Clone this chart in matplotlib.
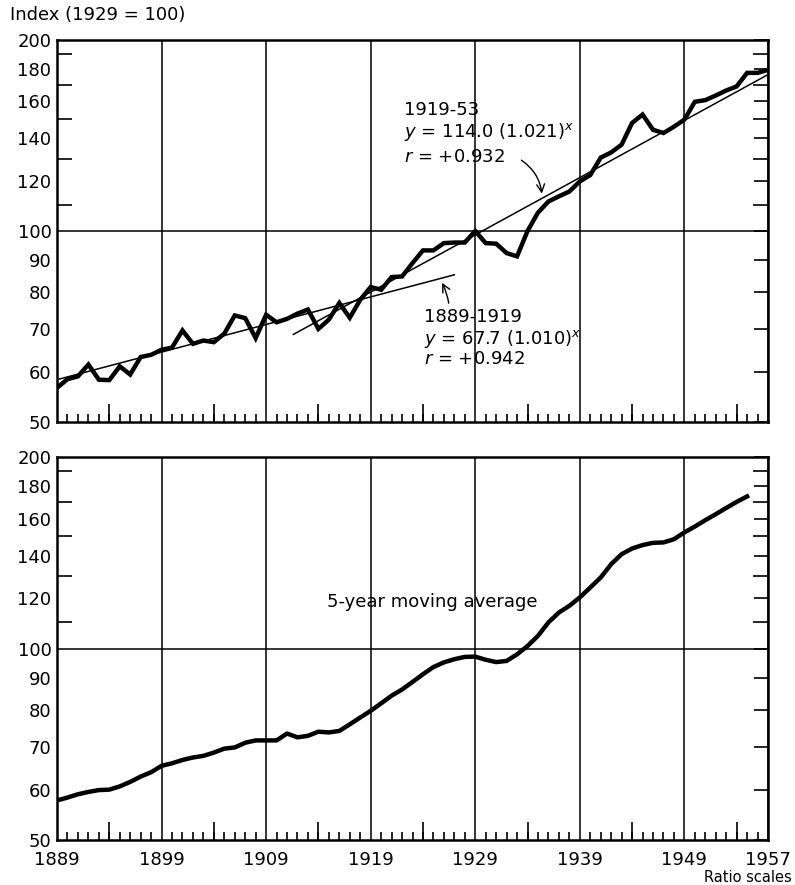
import numpy as np
import matplotlib
matplotlib.use("Agg")
import matplotlib.pyplot as plt
from matplotlib.ticker import FixedLocator, NullFormatter

# annual index, 1929 = 100
years = list(range(1889, 1958))
index = [56.6, 58.4, 59.0, 61.6, 58.3, 58.2, 61.2, 59.4, 63.3, 63.8,
         65.0, 65.5, 69.7, 66.4, 67.2, 66.8, 68.9, 73.6, 72.9, 67.8,
         73.8, 71.8, 72.7, 74.1, 75.2, 70.1, 72.5, 77.0, 73.0, 77.9,
         81.6, 80.8, 84.6, 84.8, 89.0, 93.2, 93.2, 95.7, 95.9, 95.9,
         100.0, 95.7, 95.5, 92.3, 91.2, 100.0, 106.9, 111.3, 113.4, 115.4,
         119.7, 122.5, 130.5, 133.0, 136.8, 148.0, 152.6, 144.4, 142.7, 146.0,
         149.8, 159.8, 160.8, 163.5, 166.5, 169.0, 177.5, 177.5, 179.5]

# trend lines (end points)
trend1_years = [1889, 1927]
trend1_vals = [58.3, 85.3]
trend2_years = [1911.6, 1957]
trend2_vals = [68.7, 176.4]

# 5-year moving average
ma_years = list(range(1889, 1956))
ma_vals = [57.7, 58.3, 59.0, 59.5, 59.9, 60.0, 60.7, 61.7, 62.9, 63.9,
           65.4, 66.0, 66.8, 67.4, 67.8, 68.6, 69.6, 69.9, 71.1, 71.7,
           71.7, 71.7, 73.5, 72.5, 72.9, 74.0, 73.8, 74.2, 76.0, 77.9,
           79.8, 82.0, 84.3, 86.2, 88.6, 91.1, 93.5, 95.1, 96.2, 97.0,
           97.1, 96.0, 95.2, 95.6, 97.9, 100.9, 104.7, 109.9, 113.9, 116.7,
           120.3, 124.7, 129.3, 135.7, 140.7, 143.6, 145.4, 146.6, 146.8, 148.5,
           152.2, 155.5, 159.1, 162.6, 166.3, 170.0, 173.4]

ytick_vals = [50, 60, 70, 80, 90, 100, 120, 140, 160, 180, 200]
ytick_minor = [110, 130, 150, 170, 190]
decades = [1889, 1899, 1909, 1919, 1929, 1939, 1949, 1957]

plt.rcParams['font.family'] = 'DejaVu Sans'

fig = plt.figure(figsize=(7.95, 8.85), dpi=100)
ax1 = fig.add_axes([57 / 795, 1 - 422 / 885, 711 / 795, 382 / 885])
ax2 = fig.add_axes([57 / 795, 1 - 840 / 885, 711 / 795, 383 / 885])


def setup(ax, show_x):
    ax.set_yscale('log')
    ax.set_ylim(50, 200)
    ax.set_xlim(1889, 1957)
    ax.yaxis.set_major_locator(FixedLocator(ytick_vals))
    ax.yaxis.set_minor_locator(FixedLocator(ytick_minor))
    ax.set_yticklabels([str(v) for v in ytick_vals])
    ax.yaxis.set_minor_formatter(NullFormatter())
    ax.tick_params(axis='y', which='major', direction='in', left=False, right=True,
                   length=10, width=1.2, labelsize=13, pad=4)
    ax.tick_params(axis='y', which='minor', direction='in', left=True, right=True,
                   length=11, width=1.2)
    ax.set_xticks(decades)
    ax.set_xticks([y for y in range(1890, 1957) if y not in decades], minor=True)
    ax.tick_params(axis='x', which='major', direction='in', length=0, labelsize=13, pad=8,
                   labelbottom=show_x)
    ax.tick_params(axis='x', which='minor', direction='in', length=6, width=1.2)
    if show_x:
        ax.set_xticklabels([str(d) for d in decades])
    five = [y for y in range(1894, 1957, 10)]
    ax.vlines(five, 0, 0.047, transform=ax.get_xaxis_transform(), color='black', lw=1.2)
    ax.grid(axis='x', which='major', color='black', lw=1.1)
    ax.axhline(100, color='black', lw=1.1)
    for s in ax.spines.values():
        s.set_linewidth(1.8)


setup(ax1, False)
setup(ax2, True)

ax1.plot(years, index, color='black', lw=3.2, solid_joinstyle='miter')
ax1.plot(trend1_years, trend1_vals, color='black', lw=1.1)
ax1.plot(trend2_years, trend2_vals, color='black', lw=1.1)

ax1.text(1922.2, 155, "1919-53", fontsize=13, va='center')
ax1.text(1922.2, 143, r"$y$ = 114.0 (1.021)$^x$", fontsize=13, va='center')
ax1.text(1922.2, 131, r"$r$ = +0.932", fontsize=13, va='center')
ax1.annotate("", xy=(1935.4, 113.4), xytext=(1933.2, 130),
             arrowprops=dict(arrowstyle='->', color='black', lw=1.0,
                             mutation_scale=14,
                             connectionstyle='arc3,rad=-0.25'))

ax1.text(1924.1, 73.2, "1889-1919", fontsize=13, va='center')
ax1.text(1924.1, 67.6, r"$y$ = 67.7 (1.010)$^x$", fontsize=13, va='center')
ax1.text(1924.1, 62.9, r"$r$ = +0.942", fontsize=13, va='center')
ax1.annotate("", xy=(1925.7, 83.6), xytext=(1926.5, 76.2),
             arrowprops=dict(arrowstyle='->', color='black', lw=1.0,
                             mutation_scale=14,
                             connectionstyle='arc3,rad=0.1'))

ax2.plot(ma_years, ma_vals, color='black', lw=3.2)
ax2.text(1914.8, 118.2, "5-year moving average", fontsize=13, va='center')

fig.text(10 / 795, 1 - 15 / 885, "Index (1929 = 100)", fontsize=13, va='center', ha='left')
fig.text(792 / 795, 1 - 877 / 885, "Ratio scales", fontsize=10.5, va='center', ha='right')

fig.savefig("out.png", dpi=100)
